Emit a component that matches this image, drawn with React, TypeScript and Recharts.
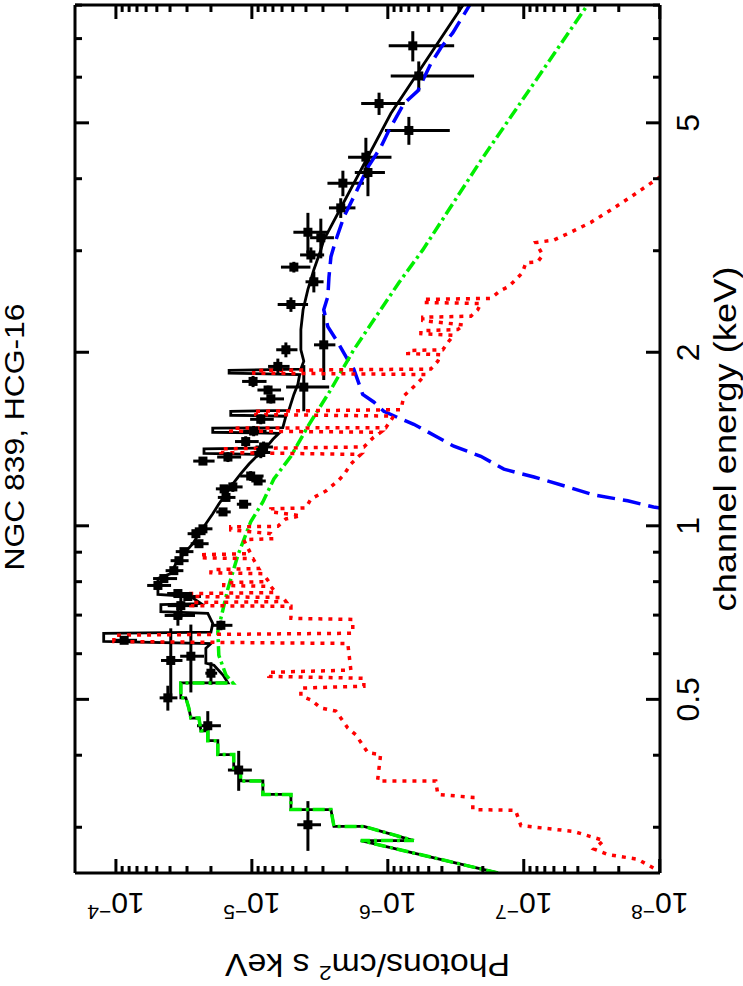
import React from "react";
import { ComposedChart, Line, Scatter, XAxis, YAxis, ErrorBar } from "recharts";

// XSPEC unfolded spectrum, drawn landscape then turned 90deg like the original plot
const FONT = "'Liberation Sans', Arial, Helvetica, sans-serif";

const energyTicks = [0.3, 0.4, 0.5, 0.6, 0.7, 0.8, 0.9, 1, 2, 3, 4, 5, 6, 7, 8];
const energyTickLabels = [0.5, 1, 2, 5];
const fluxTicks = [
  1e-8, 2e-8, 3e-8, 4e-8, 5e-8, 6e-8, 7e-8, 8e-8, 9e-8,
  1e-7, 2e-7, 3e-7, 4e-7, 5e-7, 6e-7, 7e-7, 8e-7, 9e-7,
  1e-6, 2e-6, 3e-6, 4e-6, 5e-6, 6e-6, 7e-6, 8e-6, 9e-6,
  1e-5, 2e-5, 3e-5, 4e-5, 5e-5, 6e-5, 7e-5, 8e-5, 9e-5,
  1e-4,
];
const fluxDecades = [1e-8, 1e-7, 1e-6, 1e-5, 1e-4];

// data points: [energy keV, half bin, flux, flux error]
const spectrum: [number, number, number, number][] = [
  [6.8, 0.41, 6.55e-7, 3.3e-7], [6.03, 0.36, 5.92e-7, 3.6e-7], [5.4, 0.24, 1.16e-6, 4.1e-7],
  [4.85, 0.27, 7.0e-7, 3.5e-7], [4.36, 0.35, 1.45e-6, 5.1e-7], [4.1, 0.37, 1.4e-6, 3.5e-7],
  [3.93, 0.2, 2.14e-6, 6.4e-7], [3.56, 0.14, 2.22e-6, 4.9e-7], [3.23, 0.26, 3.87e-6, 1.08e-6],
  [3.16, 0.25, 3.11e-6, 6.2e-7], [2.95, 0.09, 3.68e-6, 7.4e-7], [2.81, 0.06, 4.91e-6, 1.2e-6],
  [2.65, 0.11, 3.5e-6, 5.3e-7], [2.42, 0.07, 5.16e-6, 1.3e-6], [2.06, 0.27, 2.96e-6, 5.3e-7],
  [2.02, 0.06, 5.62e-6, 1.0e-6], [1.89, 0.06, 6.44e-6, 1.16e-6], [1.74, 0.16, 4.15e-6, 1.45e-6],
  [1.78, 0.04, 9.8e-6, 2.0e-6], [1.72, 0.03, 7.6e-6, 1.5e-6], [1.66, 0.03, 7.25e-6, 1.45e-6],
  [1.53, 0.03, 8.6e-6, 1.7e-6], [1.46, 0.03, 9.7e-6, 1.9e-6], [1.4, 0.03, 1.11e-5, 2.2e-6],
  [1.37, 0.03, 8.2e-6, 1.2e-6], [1.34, 0.03, 8.6e-6, 1.3e-6], [1.316, 0.026, 1.5e-5, 3.0e-6],
  [1.295, 0.02, 2.29e-5, 4.1e-6], [1.22, 0.024, 1.02e-5, 2.0e-6], [1.196, 0.018, 9.0e-6, 1.1e-6],
  [1.168, 0.023, 1.38e-5, 2.1e-6], [1.159, 0.017, 1.6e-5, 2.4e-6], [1.12, 0.017, 1.55e-5, 2.3e-6],
  [1.09, 0.016, 1.15e-5, 1.4e-6], [1.057, 0.016, 1.63e-5, 2.0e-6], [0.988, 0.015, 2.29e-5, 3.4e-6],
  [0.969, 0.015, 2.58e-5, 3.9e-6], [0.931, 0.014, 2.45e-5, 3.7e-6], [0.902, 0.013, 3.16e-5, 4.7e-6],
  [0.87, 0.013, 3.44e-5, 5.2e-6], [0.836, 0.013, 3.75e-5, 5.6e-6], [0.81, 0.012, 4.44e-5, 8.9e-6],
  [0.788, 0.012, 4.91e-5, 9.8e-6], [0.763, 0.012, 3.5e-5, 7.0e-6], [0.754, 0.011, 2.96e-5, 5.9e-6],
  [0.727, 0.036, 3.33e-5, 8.3e-6], [0.699, 0.028, 3.5e-5, 8.8e-6], [0.672, 0.013, 1.69e-5, 3.0e-6],
  [0.633, 0.006, 8.7e-5, 1.7e-5], [0.584, 0.08, 3.95e-5, 7.1e-6], [0.594, 0.08, 2.81e-5, 5.6e-6],
  [0.555, 0.025, 2.0e-5, 2.0e-6], [0.503, 0.025, 4.15e-5, 6.2e-6], [0.45, 0.027, 2.11e-5, 4.2e-6],
  [0.377, 0.03, 1.25e-5, 2.5e-6], [0.303, 0.03, 3.87e-6, 7.7e-7],
];

// total model (black histogram)
const totalModel: [number, number][] = [
  [0.25, 1.55e-7], [0.2845, 1.58e-6], [0.2845, 6.44e-7], [0.301, 1.5e-6], [0.301, 2.49e-6],
  [0.322, 2.62e-6], [0.322, 5.16e-6], [0.342, 5.16e-6], [0.342, 8.3e-6], [0.361, 8.3e-6],
  [0.361, 1.21e-5], [0.38, 1.21e-5], [0.38, 1.36e-5], [0.401, 1.36e-5], [0.401, 1.78e-5],
  [0.424, 1.78e-5], [0.424, 2.11e-5], [0.441, 2.11e-5], [0.441, 2.37e-5], [0.464, 2.45e-5],
  [0.464, 2.81e-5], [0.483, 2.91e-5], [0.503, 3.06e-5], [0.503, 3.33e-5], [0.534, 3.33e-5],
  [0.534, 1.5e-5], [0.551, 1.63e-5], [0.573, 1.9e-5], [0.578, 2.18e-5], [0.613, 2.18e-5],
  [0.625, 2.0e-5], [0.63, 1.23e-4], [0.651, 1.23e-4], [0.654, 2.0e-5], [0.677, 1.94e-5],
  [0.705, 2.11e-5], [0.71, 4.67e-5], [0.73, 4.67e-5], [0.733, 2.37e-5], [0.754, 2.81e-5],
  [0.76, 4.91e-5], [0.81, 4.91e-5], [0.826, 3.95e-5], [0.86, 3.62e-5], [0.895, 3.16e-5],
  [0.931, 2.72e-5], [0.969, 2.45e-5], [1.008, 2.18e-5], [1.049, 1.94e-5], [1.091, 1.75e-5],
  [1.136, 1.55e-5], [1.182, 1.38e-5], [1.23, 1.21e-5], [1.28, 1.05e-5], [1.316, 9.35e-6],
  [1.33, 8.6e-6], [1.335, 2.25e-5], [1.36, 2.25e-5], [1.365, 7.9e-6], [1.413, 7.0e-6],
  [1.447, 6.32e-6], [1.453, 1.94e-5], [1.477, 1.94e-5], [1.48, 5.92e-6], [1.549, 5.62e-6],
  [1.555, 1.43e-5], [1.58, 1.43e-5], [1.585, 5.35e-6], [1.69, 4.91e-6], [1.76, 4.59e-6],
  [1.83, 4.45e-6], [1.84, 1.47e-5], [1.86, 1.47e-5], [1.87, 4.36e-6], [1.93, 4.15e-6],
  [2.02, 4.36e-6], [2.19, 4.36e-6], [2.37, 4.2e-6], [2.57, 3.87e-6], [2.78, 3.5e-6],
  [3.01, 3.11e-6], [3.13, 2.96e-6], [5.19, 9.5e-7], [8.0, 2.8e-7],
];

// absorbed soft power law (green dash-dot)
const softPowerLaw: [number, number][] = [
  [0.25, 1.55e-7], [0.2845, 1.58e-6], [0.2845, 6.44e-7], [0.301, 1.5e-6], [0.301, 2.49e-6],
  [0.322, 2.62e-6], [0.322, 5.16e-6], [0.342, 5.16e-6], [0.342, 8.3e-6], [0.361, 8.3e-6],
  [0.361, 1.21e-5], [0.38, 1.21e-5], [0.38, 1.36e-5], [0.401, 1.36e-5], [0.401, 1.78e-5],
  [0.424, 1.78e-5], [0.424, 2.11e-5], [0.441, 2.11e-5], [0.441, 2.37e-5], [0.464, 2.45e-5],
  [0.464, 2.81e-5], [0.483, 2.91e-5], [0.503, 3.06e-5], [0.503, 3.33e-5], [0.534, 3.33e-5],
  [0.534, 1.38e-5], [0.551, 1.55e-5], [0.596, 1.75e-5], [0.656, 1.78e-5], [0.691, 1.69e-5],
  [0.778, 1.5e-5], [0.888, 1.27e-5], [1.016, 1.02e-5], [1.1, 8.3e-6], [1.206, 6.89e-6],
  [1.32, 5.16e-6], [1.488, 3.87e-6], [1.724, 2.62e-6], [2.02, 1.78e-6], [2.37, 1.13e-6],
  [2.64, 8.3e-7], [3.01, 5.53e-7], [4.3, 2.07e-7], [7.97, 3.44e-8],
];

// heavily absorbed hard power law (blue dashed)
const hardPowerLaw: [number, number][] = [
  [1.07, 9e-9], [1.078, 1.11e-8], [1.105, 1.72e-8], [1.131, 3.05e-8], [1.168, 4.74e-8],
  [1.215, 8.4e-8], [1.254, 1.4e-7], [1.32, 2.07e-7], [1.374, 3.27e-7], [1.43, 4.44e-7],
  [1.5, 6.44e-7], [1.54, 8.4e-7], [1.58, 1.07e-6], [1.64, 1.27e-6], [1.69, 1.53e-6],
  [1.87, 1.78e-6], [1.94, 1.97e-6], [2.08, 2.33e-6], [2.215, 2.76e-6], [2.37, 2.96e-6],
  [2.5, 2.76e-6], [2.7, 2.71e-6], [2.93, 2.62e-6], [3.13, 2.41e-6], [3.43, 2.11e-6],
  [3.72, 1.78e-6], [4.19, 1.4e-6], [4.53, 1.13e-6], [4.85, 9.83e-7], [5.4, 7.62e-7],
  [5.68, 6.02e-7], [6.33, 4.83e-7], [6.75, 4.07e-7], [7.16, 3.33e-7], [8.0, 2.5e-7],
];

// thermal plasma (red dotted)
const thermal: [number, number][] = [
  [0.25, 9.6e-9], [0.264, 1.45e-8], [0.269, 2.41e-8], [0.275, 3.05e-8], [0.2845, 2.58e-8],
  [0.295, 4.29e-8], [0.302, 1.05e-7], [0.321, 1.15e-7], [0.322, 2.37e-7], [0.338, 2.37e-7],
  [0.342, 4.29e-7], [0.361, 4.44e-7], [0.361, 1.19e-6], [0.401, 1.13e-6], [0.404, 1.4e-6],
  [0.434, 1.72e-6], [0.446, 1.97e-6], [0.477, 2.41e-6], [0.483, 3.11e-6], [0.499, 3.68e-6],
  [0.507, 4.36e-6], [0.523, 4.36e-6], [0.527, 1.5e-6], [0.544, 1.5e-6], [0.548, 7.5e-6],
  [0.557, 7.5e-6], [0.562, 1.87e-6], [0.625, 1.97e-6], [0.63, 1.035e-4], [0.646, 1.035e-4],
  [0.651, 1.81e-6], [0.688, 1.81e-6], [0.691, 5.16e-6], [0.725, 5.16e-6], [0.727, 2.81e-5],
  [0.736, 2.81e-5], [0.739, 5.62e-6], [0.751, 5.92e-6], [0.754, 2.81e-5], [0.763, 2.81e-5],
  [0.766, 6.67e-6], [0.785, 7.25e-6], [0.788, 1.61e-5], [0.797, 1.61e-5], [0.8, 7.5e-6],
  [0.826, 8.3e-6], [0.829, 2.0e-5], [0.839, 2.0e-5], [0.843, 8.9e-6], [0.877, 9.8e-6],
  [0.88, 2.37e-5], [0.891, 2.37e-5], [0.895, 1.02e-5], [0.931, 1.11e-5], [0.946, 1.15e-5],
  [0.95, 6.89e-6], [0.969, 7.25e-6], [0.984, 1.43e-5], [0.996, 1.43e-5], [0.998, 6.44e-6],
  [1.028, 5.62e-6], [1.041, 4.36e-6], [1.057, 7.25e-6], [1.07, 7.25e-6], [1.074, 4.01e-6],
  [1.113, 3.68e-6], [1.149, 2.86e-6], [1.196, 2.33e-6], [1.225, 2.11e-6], [1.28, 1.87e-6],
  [1.33, 1.58e-6], [1.34, 1.69e-5], [1.36, 1.69e-5], [1.37, 1.5e-6], [1.42, 1.29e-6],
  [1.453, 1.13e-6], [1.46, 1.43e-5], [1.477, 1.43e-5], [1.48, 1.035e-6], [1.55, 9.04e-7],
  [1.56, 9.7e-6], [1.58, 9.7e-6], [1.59, 8.0e-7], [1.68, 7.62e-7], [1.77, 6.02e-7],
  [1.83, 5.26e-7], [1.84, 9.7e-6], [1.86, 9.7e-6], [1.87, 4.83e-7], [1.93, 4.29e-7],
  [1.98, 4.07e-7], [1.99, 7.13e-7], [2.014, 7.13e-7], [2.02, 3.94e-7], [2.09, 3.56e-7],
  [2.14, 3.27e-7], [2.155, 5.71e-7], [2.18, 5.71e-7], [2.19, 3.06e-7], [2.23, 2.76e-7],
  [2.27, 5.53e-7], [2.3, 5.53e-7], [2.31, 2.45e-7], [2.37, 2.18e-7], [2.43, 2.07e-7],
  [2.44, 5.43e-7], [2.47, 5.43e-7], [2.48, 1.75e-7], [2.56, 1.48e-7], [2.6, 1.29e-7],
  [2.67, 1.15e-7], [2.75, 1.02e-7], [2.86, 9.66e-8], [2.87, 7.89e-8], [2.95, 7.25e-8],
  [3.1, 8.16e-8], [3.13, 6.02e-8], [3.23, 4.51e-8], [3.36, 3.21e-8], [3.53, 2.29e-8],
  [3.72, 1.63e-8], [3.93, 1.16e-8], [4.05, 9.6e-9],
];

const toRows = (arr: [number, number][]) => arr.map(([e, f]) => ({ e, f }));
const points = spectrum.map(([e, de, f, df]) => ({ e, de, f, df }));

const isDecade = (v: number) => fluxDecades.some((d) => Math.abs(v / d - 1) < 1e-6);

function EnergyTickBottom(props: any) {
  const { x, y, payload } = props;
  const major = energyTickLabels.includes(payload.value);
  return (
    <g>
      <line x1={x} y1={y} x2={x} y2={y - (major ? 14 : 7)} stroke="#000" strokeWidth={3} />
      {major && (
        <text x={x} y={y + 39} textAnchor="middle" fontSize={32} fill="#000">
          {String(payload.value)}
        </text>
      )}
    </g>
  );
}

function EnergyTickTop(props: any) {
  const { x, y, payload } = props;
  const major = energyTickLabels.includes(payload.value);
  return <line x1={x} y1={y} x2={x} y2={y + (major ? 14 : 7)} stroke="#000" strokeWidth={3} />;
}

function FluxTickLeft(props: any) {
  const { x, y, payload } = props;
  const major = isDecade(payload.value);
  const exp = Math.round(Math.log10(payload.value));
  const lx = x - 20;
  return (
    <g>
      <line x1={x} y1={y} x2={x + (major ? 14 : 7)} y2={y} stroke="#000" strokeWidth={3} />
      {major && (
        <text transform={`rotate(-90 ${lx} ${y})`} x={lx} y={y} textAnchor="middle" fontSize={30} fill="#000">
          10
          <tspan dy={-12} fontSize={21}>
            {"\u2212" + Math.abs(exp)}
          </tspan>
        </text>
      )}
    </g>
  );
}

function FluxTickRight(props: any) {
  const { x, y, payload } = props;
  const major = isDecade(payload.value);
  return <line x1={x} y1={y} x2={x - (major ? 14 : 7)} y2={y} stroke="#000" strokeWidth={3} />;
}

function TitleLabel(props: any) {
  const vb = props.viewBox;
  return (
    <text
      x={vb.x + vb.width / 2 + 2}
      y={vb.y + vb.height - 51}
      textAnchor="middle"
      fontSize={28}
      textLength={267}
      lengthAdjust="spacingAndGlyphs"
      fill="#000"
    >
      NGC 839, HCG-16
    </text>
  );
}

function EnergyAxisLabel(props: any) {
  const vb = props.viewBox;
  return (
    <text
      x={vb.x + vb.width / 2}
      y={vb.y + 76}
      textAnchor="middle"
      fontSize={31}
      textLength={345}
      lengthAdjust="spacingAndGlyphs"
      fill="#000"
    >
      channel energy (keV)
    </text>
  );
}

function FluxAxisLabel(props: any) {
  const vb = props.viewBox;
  const x = vb.x + 32;
  const cy = vb.y + vb.height / 2;
  return (
    <text
      transform={`rotate(-90 ${x} ${cy})`}
      x={x}
      y={cy}
      textAnchor="middle"
      fontSize={31}
      textLength={285}
      lengthAdjust="spacingAndGlyphs"
      fill="#000"
    >
      Photons/cm
      <tspan dy={-12} fontSize={21}>2</tspan>
      <tspan dy={12}> s keV</tspan>
    </text>
  );
}

const square = (p: any) => <rect x={p.cx - 4.5} y={p.cy - 4.5} width={9} height={9} fill="#000" />;

export default function App() {
  const axisLine = { stroke: "#000", strokeWidth: 3 };
  const eDomain: [number, number] = [0.2499, 8.005];
  const fDomain: [number, number] = [0.995e-8, 2e-4];
  return (
    <div
      style={{
        position: "absolute",
        left: 0,
        top: 0,
        width: 986,
        height: 743,
        transformOrigin: "0 0",
        transform: "translate(0px, 986px) rotate(-90deg)",
        fontFamily: FONT,
        background: "#fff",
      }}
    >
      <ComposedChart width={986} height={743} margin={{ top: 74, right: 4, bottom: 0, left: 0 }}>
        <XAxis
          dataKey="e"
          type="number"
          scale="log"
          domain={eDomain}
          allowDataOverflow
          ticks={energyTicks}
          interval={0}
          tickSize={0}
          tickMargin={0}
          tickLine={false}
          tick={EnergyTickBottom}
          height={83}
          axisLine={axisLine}
          label={EnergyAxisLabel}
        />
        <XAxis
          xAxisId="top"
          orientation="top"
          dataKey="e"
          type="number"
          scale="log"
          domain={eDomain}
          allowDataOverflow
          ticks={energyTicks}
          interval={0}
          tickSize={0}
          tickMargin={0}
          tickLine={false}
          tick={EnergyTickTop}
          height={1}
          axisLine={axisLine}
          label={TitleLabel}
        />
        <YAxis
          type="number"
          scale="log"
          domain={fDomain}
          allowDataOverflow
          ticks={fluxTicks}
          interval={0}
          tickSize={0}
          tickMargin={0}
          tickLine={false}
          tick={FluxTickLeft}
          width={113}
          axisLine={axisLine}
          label={FluxAxisLabel}
        />
        <YAxis
          yAxisId="right"
          orientation="right"
          type="number"
          scale="log"
          domain={fDomain}
          allowDataOverflow
          ticks={fluxTicks}
          interval={0}
          tickSize={0}
          tickMargin={0}
          tickLine={false}
          tick={FluxTickRight}
          width={1}
          axisLine={axisLine}
        />

        {/* invisible series tied to the mirrored frame axes */}
        <Line xAxisId="top" yAxisId="right" data={toRows(totalModel)} dataKey="f" dot={false} stroke="none" isAnimationActive={false} />

        <Line data={toRows(totalModel)} dataKey="f" type="linear" dot={false} stroke="#000" strokeWidth={2.8} isAnimationActive={false} />
        <Scatter data={points} dataKey="f" shape={square} isAnimationActive={false}>
          <ErrorBar dataKey="df" direction="y" width={0} stroke="#000" strokeWidth={3} />
          <ErrorBar dataKey="de" direction="x" width={0} stroke="#000" strokeWidth={3} />
        </Scatter>
        <Line data={toRows(hardPowerLaw)} dataKey="f" type="linear" dot={false} stroke="#0000ff" strokeWidth={3.5} strokeDasharray="18 8" isAnimationActive={false} />
        <Line data={toRows(softPowerLaw)} dataKey="f" type="linear" dot={false} stroke="#00ee00" strokeWidth={3.5} strokeDasharray="12 4 3 4" isAnimationActive={false} />
        <Line data={toRows(thermal)} dataKey="f" type="linear" dot={false} stroke="#ff0000" strokeWidth={3.5} strokeDasharray="4 6" isAnimationActive={false} />
      </ComposedChart>
    </div>
  );
}
